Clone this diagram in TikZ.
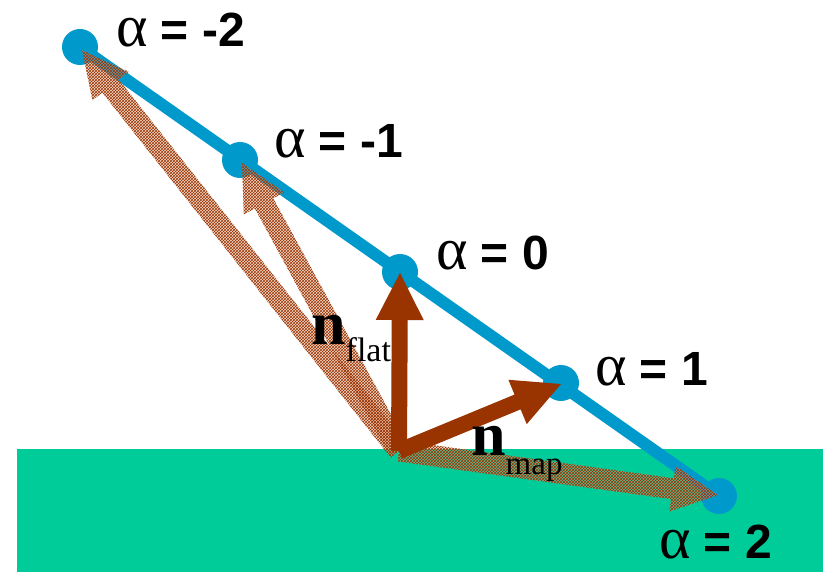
\documentclass[tikz,border=0pt]{standalone}
\usepackage{fontspec}
\setmainfont{Liberation Serif}
\newfontfamily\lsans{Liberation Sans}
\usetikzlibrary{calc,patterns}
\definecolor{ground}{RGB}{0,204,153}
\definecolor{lineblue}{RGB}{0,153,204}
\definecolor{nbrown}{RGB}{153,51,0}
\definecolor{hatchbrown}{RGB}{225,165,140}
\newcommand\fatarrow[6]{%
  \path[#1] ($(#2)!#4!90:(#3)$) -- ($($(#3)!#6!(#2)$)!#4!-90:(#2)$)
    -- ($($(#3)!#6!(#2)$)!#5!-90:(#2)$) -- (#3)
    -- ($($(#3)!#6!(#2)$)!#5!90:(#2)$) -- ($($(#3)!#6!(#2)$)!#4!90:(#2)$)
    -- ($(#2)!#4!-90:(#3)$) -- cycle;}
\tikzset{
  dot/.style={fill=lineblue},
  hatched/.style={fill=hatchbrown, fill opacity=0.4},
  hatchtex/.style={pattern=crosshatch, pattern color=nbrown, fill opacity=0.5},
  solid/.style={fill=nbrown},
  alab/.style={anchor=base west, inner sep=0pt},
}
\newcommand\alabtext[1]{{\fontsize{60}{60}\selectfont α}{\lsans\bfseries\fontsize{48}{48}\selectfont\ = #1}}
\begin{document}
\begin{tikzpicture}[x=1pt,y=-1pt]
\useasboundingbox (0,0) rectangle (823,572);
\fill[ground] (17,449) rectangle (823,572);
\coordinate (m2) at (80,47);
\coordinate (m1) at (240,160);
\coordinate (z0) at (400,272);
\coordinate (p1) at (561,383);
\coordinate (p2) at (719,496);
\coordinate (o) at (399,451);
\draw[lineblue, line width=12pt] (m2) -- (p2);
\foreach \c in {m2,m1,z0,p1,p2} \fill[dot] (\c) circle (18);
% hatched (mapped) normals
\coordinate (hm2) at (82,50);
\coordinate (hm1) at (242,163);
\coordinate (hp2) at (718,495);
\foreach \t in {hm2,hm1,hp2} {
  \fatarrow{hatched}{o}{\t}{10.5pt}{23pt}{46pt}
  \fatarrow{hatchtex}{o}{\t}{10.5pt}{23pt}{46pt}
}
% solid normals
\coordinate (nf) at (400,273);
\coordinate (nm) at (561,384);
\fatarrow{solid}{o}{nf}{8pt}{24pt}{47pt}
\fatarrow{solid}{o}{nm}{8pt}{24pt}{47pt}
% labels
\node[alab] (lm2) at (116,47) {\alabtext{-2}};
\node[alab] (lm1) at (274,158) {\alabtext{-1}};
\node[alab] (lz0) at (436,270) {\alabtext{0}};
\node[alab] (lp1) at (595,385) {\alabtext{1}};
\node[alab] (lp2) at (659,558) {\alabtext{2}};
\node[alab] (nflat) at (311,345) {{\fontsize{62}{62}\selectfont\bfseries n}{\fontsize{34}{34}\selectfont\raisebox{-17pt}{flat}}};
\node[alab] (nmap) at (471,455) {{\fontsize{62}{62}\selectfont\bfseries n}{\fontsize{33}{33}\selectfont\raisebox{-20pt}{map}}};
\end{tikzpicture}
\end{document}
